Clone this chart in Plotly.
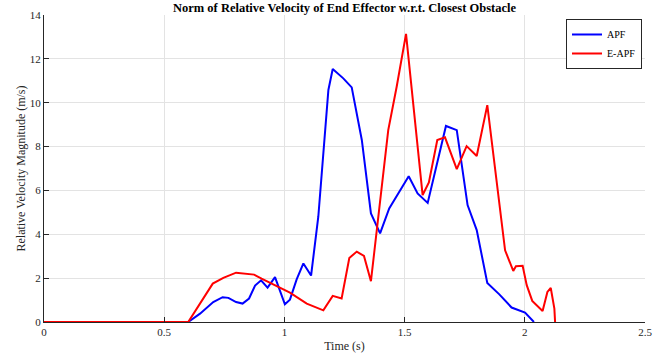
import plotly.graph_objects as go

apf_t = [0, 0.6, 0.649, 0.704, 0.743, 0.767, 0.799, 0.826, 0.853, 0.878, 0.903, 0.930, 0.961,
         1.002, 1.023, 1.051, 1.079, 1.111, 1.141, 1.183, 1.201, 1.245, 1.280, 1.322, 1.360,
         1.398, 1.436, 1.481, 1.517, 1.554, 1.596, 1.672, 1.717, 1.762, 1.800, 1.844, 1.894,
         1.945, 2.001, 2.038]
apf_v = [0, 0, 0.38, 0.91, 1.13, 1.10, 0.91, 0.84, 1.07, 1.66, 1.90, 1.57, 2.05,
         0.81, 1.02, 1.94, 2.67, 2.12, 4.80, 10.58, 11.54, 11.11, 10.70, 8.30, 4.95,
         4.04, 5.18, 6.01, 6.65, 5.86, 5.43, 8.94, 8.75, 5.33, 4.19, 1.78, 1.26,
         0.66, 0.43, 0.0]

eapf_t = [0, 0.6, 0.702, 0.746, 0.799, 0.874, 0.905, 1.023, 1.093, 1.162, 1.201, 1.238,
          1.270, 1.301, 1.331, 1.360, 1.432, 1.467, 1.506, 1.575, 1.601, 1.636, 1.668,
          1.717, 1.758, 1.800, 1.844, 1.918, 1.952, 1.963, 1.991, 2.008, 2.031, 2.074,
          2.094, 2.108, 2.123, 2.126]
eapf_v = [0, 0, 1.75, 2.01, 2.25, 2.16, 1.98, 1.34, 0.84, 0.53, 1.19, 1.07,
          2.92, 3.21, 3.01, 1.86, 8.75, 10.73, 13.14, 5.79, 6.36, 8.30, 8.42,
          6.97, 8.02, 7.57, 9.89, 3.27, 2.33, 2.54, 2.56, 1.68, 0.96, 0.50,
          1.37, 1.55, 0.61, 0.0]

x_ticks = [0, 0.5, 1, 1.5, 2, 2.5]
x_labels = ["0", "0.5", "1", "1.5", "2", "2.5"]
y_ticks = [0, 2, 4, 6, 8, 10, 12, 14]

font = "Liberation Serif"

fig = go.Figure()
fig.add_trace(go.Scatter(x=apf_t, y=apf_v, mode="lines", name="APF",
                         line=dict(color="#0000ff", width=2)))
fig.add_trace(go.Scatter(x=eapf_t, y=eapf_v, mode="lines", name="E-APF",
                         line=dict(color="#ff0000", width=2)))

fig.update_layout(
    width=669, height=356,
    margin=dict(l=44, r=24, t=15, b=34),
    paper_bgcolor="white", plot_bgcolor="white",
    font=dict(family=font, size=11, color="#262626"),
    title=dict(text="<b>Norm of Relative Velocity of End Effector w.r.t. Closest Obstacle</b>",
               x=0.5, xanchor="center", xref="paper", y=0.978, yanchor="middle",
               font=dict(family=font, size=12.5, color="#000000")),
    showlegend=True,
    legend=dict(x=0.995, y=0.987, xanchor="right", yanchor="top",
                bgcolor="white", bordercolor="#262626", borderwidth=1,
                font=dict(family=font, size=10, color="#000000"),
                itemwidth=30, tracegroupgap=0),
    xaxis=dict(range=[0, 2.5], tickvals=x_ticks, ticktext=x_labels, automargin=False,
               showgrid=True, gridcolor="#e3e3e3", gridwidth=1,
               zeroline=False, showline=True, linecolor="#262626", linewidth=1,
               ticks="inside", ticklen=5, tickcolor="#262626",
               title=dict(text="Time (s)", standoff=4, font=dict(size=12)),
               mirror=False),
    yaxis=dict(range=[0, 14], tickvals=y_ticks, automargin=False,
               showgrid=True, gridcolor="#e3e3e3", gridwidth=1,
               zeroline=False, showline=True, linecolor="#262626", linewidth=1,
               ticks="inside", ticklen=5, tickcolor="#262626",
               title=dict(text="Relative Velocity Magnitude (m/s)", standoff=1, font=dict(size=12))),
)

fig.write_html("out.html")
